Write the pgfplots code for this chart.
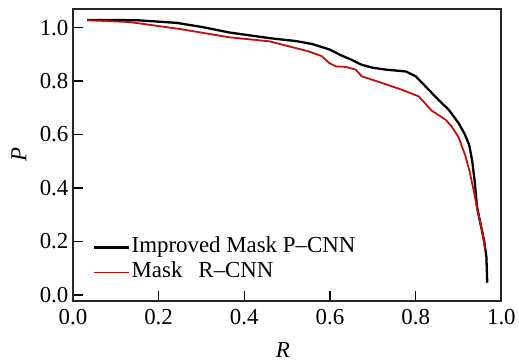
\documentclass[border=0pt]{standalone}
\usepackage{fontspec}
\setmainfont{Liberation Serif}
\usepackage{pgfplots}
\pgfplotsset{compat=1.18}
\definecolor{myred}{rgb}{0.75,0.06,0.06}
\begin{document}
\begin{tikzpicture}
\begin{axis}[
  scale only axis,
  width=429bp, height=292bp,
  xmin=0, xmax=1.0, ymin=-0.022, ymax=1.07,
  xtick={0,0.2,0.4,0.6,0.8,1.0},
  ytick={0,0.2,0.4,0.6,0.8,1.0},
  xtick pos=bottom, ytick pos=left,
  tick align=inside,
  major tick length=10bp,
  every tick/.style={line width=1.6bp, black},
  axis line style={line width=1.8bp, black!85},
  /pgf/number format/assume math mode=true,
  /pgf/number format/fixed, /pgf/number format/fixed zerofill,
  /pgf/number format/precision=1,
  ticklabel style={font=\fontsize{23}{27}\selectfont},
  xticklabel style={yshift=-5bp},
  yticklabel style={xshift=-1bp},
  xlabel={\textit{R}}, ylabel={\textit{P}},
  label style={font=\fontsize{23}{27}\selectfont},
  xlabel style={at={(axis description cs:0.49,-0.168)}, anchor=center},
  ylabel style={at={(axis description cs:-0.126,0.5)}, anchor=center},
  clip=false,
  legend cell align=left,
  legend style={at={(rel axis cs:0.045,0.060)}, anchor=south west, draw=none, fill=none,
    inner sep=0pt, row sep=4bp,
    nodes={font=\fontsize{23}{25}\selectfont, inner sep=1bp, text height=15bp, text depth=4bp}},
  legend image code/.code={\draw[#1] (0bp,0bp) -- (36bp,0bp);},
]
\addplot[black, line width=2.3bp] coordinates {
(0.033,1.029) (0.149,1.028) (0.242,1.018) (0.300,1.003) (0.365,0.982)
(0.458,0.961) (0.520,0.950) (0.558,0.939) (0.598,0.919) (0.628,0.895)
(0.650,0.880) (0.674,0.861) (0.700,0.850) (0.730,0.843) (0.777,0.836)
(0.800,0.818) (0.823,0.780) (0.853,0.730) (0.877,0.693) (0.900,0.643)
(0.915,0.600) (0.925,0.560) (0.932,0.500) (0.938,0.420) (0.943,0.330)
(0.952,0.260) (0.960,0.200) (0.965,0.142) (0.967,0.045)
};
\addlegendentry{Improved Mask P–CNN}
\addplot[myred, line width=1.8bp] coordinates {
(0.033,1.028) (0.133,1.021) (0.250,0.995) (0.365,0.964) (0.458,0.949)
(0.551,0.911) (0.581,0.893) (0.598,0.868) (0.614,0.855) (0.637,0.853)
(0.660,0.843) (0.674,0.818) (0.714,0.797) (0.767,0.768) (0.807,0.743)
(0.837,0.690) (0.870,0.655) (0.884,0.630) (0.900,0.590) (0.916,0.520)
(0.926,0.460) (0.935,0.393) (0.944,0.318) (0.955,0.240) (0.962,0.170)
};
\addlegendentry{Mask\hspace{0.45em} R–CNN}
\path (rel axis cs:0,0) ++(-73bp,-60bp);
\path (rel axis cs:1,1) ++(17bp,9bp);
\end{axis}
\end{tikzpicture}
\end{document}
